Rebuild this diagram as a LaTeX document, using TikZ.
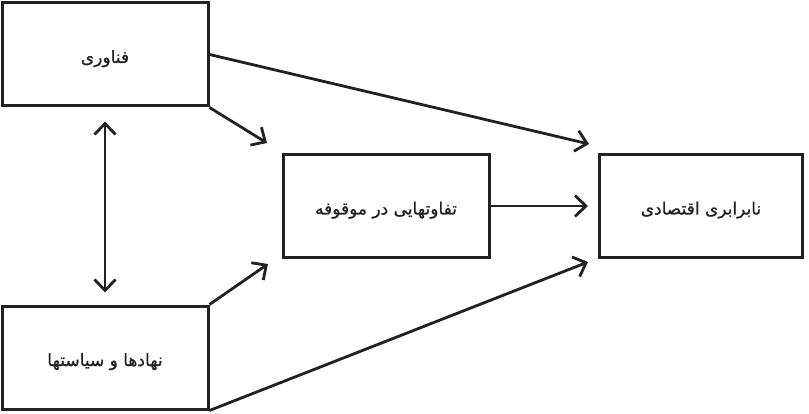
\documentclass[tikz,border=0pt]{standalone}
\usepackage{fontspec}
\usetikzlibrary{arrows.meta}
\newfontfamily\farsi[Script=Arabic,FakeBold=0.8]{DejaVu Sans}
\TeXXeTstate=1

\begin{document}
\begin{tikzpicture}[x=1pt,y=1pt,
  box/.style={draw=black!87,line width=3pt,minimum width=206pt,minimum height=103pt,inner sep=0pt,text height=17pt,text depth=0pt,text=black!87,font=\farsi\fontsize{17}{20}\selectfont},
  link/.style={-{Straight Barb[length=11pt,width=21pt]},draw=black!87,line width=2.8pt}]
  \useasboundingbox (0,0) rectangle (809,413);

  \node[box] (tech) at (105,358.5) {\beginR فناوری\endR};
  \node[box] (inst) at (105,55.5) {\beginR نهادها و سیاستها\endR};
  \node[box] (diff) at (386,207) {\beginR تفاوتهایی در موقوفه\endR};
  \node[box,minimum width=203pt] (ineq) at (701,207) {\beginR نابرابری اقتصادی\endR};

  \coordinate (ineqtop) at (589,269);
  \coordinate (ineqbot) at (588,151);
  \coordinate (difftop) at (267,270);
  \coordinate (diffbot) at (268,149);

  \draw[link] (tech.east) -- (ineqtop);
  \draw[link] (tech.south east) -- (difftop);
  \draw[link] (inst.north east) -- (diffbot);
  \draw[link] (inst.south east) -- (ineqbot);
  \draw[link,shorten >=10pt] (diff.east) -- (ineq.west);
  \draw[link,{Straight Barb[length=11pt,width=21pt]}-{Straight Barb[length=11pt,width=21pt]},shorten <=14pt,shorten >=12pt] (tech.south) -- (inst.north);
\end{tikzpicture}
\end{document}
